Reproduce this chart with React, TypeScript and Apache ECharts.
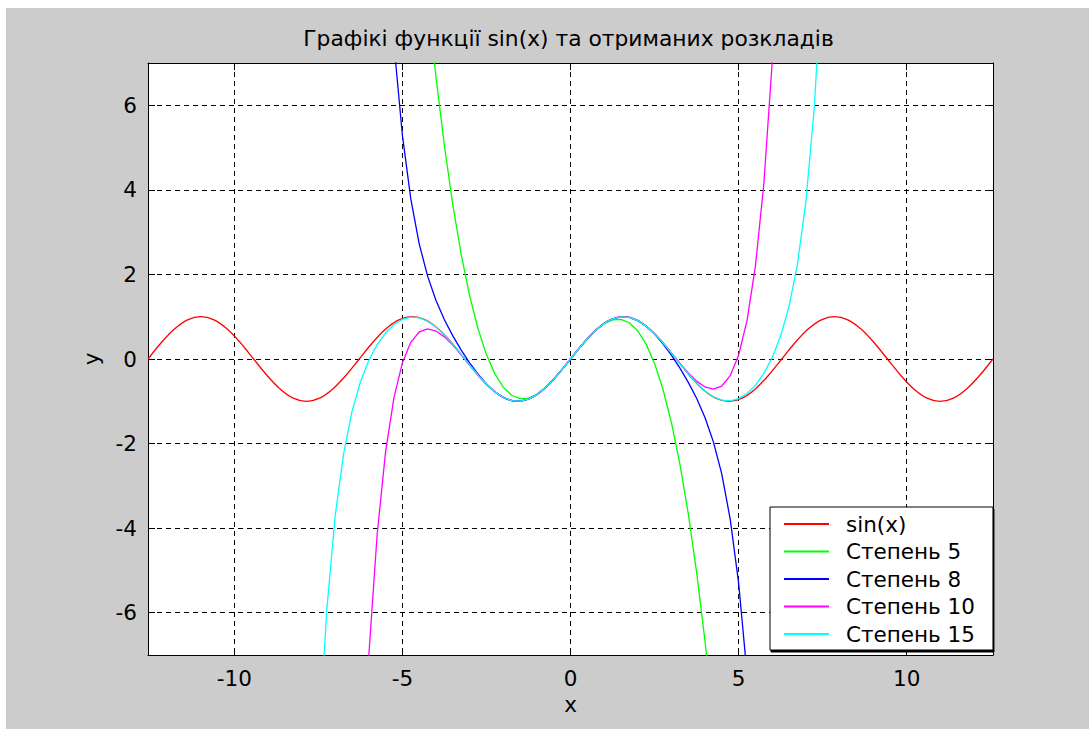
import React, { useEffect, useRef } from "react";
import * as echarts from "echarts";

const TITLE = "Графікі функції sin(x) та отриманих розкладів";
const X_NAME = "x";
const Y_NAME = "y";
const SERIES_NAMES = ["sin(x)", "Степень 5", "Степень 8", "Степень 10", "Степень 15"];
const SERIES_COLORS = ["#ff0000", "#00ff00", "#0000ff", "#ff00ff", "#00ffff"];

const X_MIN = -12.566;
const X_MAX = 12.566;
const Y_MIN = -7;
const Y_MAX = 7;

// sin(x) samples
const SIN_X = [
  -12.566, -12.174, -11.781, -11.388, -10.996, -10.603, -10.21, -9.817, -9.425, -9.032, -8.639,
  -8.247, -7.854, -7.461, -7.069, -6.676, -6.283, -5.89, -5.498, -5.105, -4.712, -4.32, -3.927,
  -3.534, -3.142, -2.749, -2.356, -1.963, -1.571, -1.178, -0.785, -0.393, 0, 0.393, 0.785, 1.178,
  1.571, 1.963, 2.356, 2.749, 3.142, 3.534, 3.927, 4.32, 4.712, 5.105, 5.498, 5.89, 6.283, 6.676,
  7.069, 7.461, 7.854, 8.247, 8.639, 9.032, 9.425, 9.817, 10.21, 10.603, 10.996, 11.388, 11.781,
  12.174, 12.566,
];
const SIN_Y = [
  0, 0.383, 0.707, 0.924, 1, 0.924, 0.707, 0.383, 0, -0.383, -0.707, -0.924, -1, -0.924, -0.707, -0.383,
  0, 0.383, 0.707, 0.924, 1, 0.924, 0.707, 0.383, 0, -0.383, -0.707, -0.924, -1, -0.924, -0.707, -0.383,
  0, 0.383, 0.707, 0.924, 1, 0.924, 0.707, 0.383, 0, -0.383, -0.707, -0.924, -1, -0.924, -0.707, -0.383,
  0, 0.383, 0.707, 0.924, 1, 0.924, 0.707, 0.383, 0, -0.383, -0.707, -0.924, -1, -0.924, -0.707, -0.383,
  0,
];

// shared x grid for the expansions
const POLY_X = [
  -7.5, -7.25, -7, -6.75, -6.5, -6.25, -6, -5.75, -5.5, -5.25, -5, -4.75, -4.5, -4.25, -4, -3.75,
  -3.5, -3.25, -3, -2.75, -2.5, -2.25, -2, -1.75, -1.5, -1.25, -1, -0.75, -0.5, -0.25, 0, 0.25, 0.5,
  0.75, 1, 1.25, 1.5, 1.75, 2, 2.25, 2.5, 2.75, 3, 3.25, 3.5, 3.75, 4, 4.25, 4.5, 4.75, 5, 5.25, 5.5,
  5.75, 6, 6.25, 6.5, 6.75, 7, 7.25, 7.5,
];

const DEG5_Y = [
  null, null, null, null, null, null, null, null, null, null, null, null, null,
  8.544, 6.667, 5.039, 3.646, 2.471, 1.5, 0.716, 0.104, -0.352, -0.667, -0.857, -0.938, -0.924, -0.833,
  -0.68, -0.479, -0.247, 0, 0.247, 0.479, 0.68, 0.833, 0.924, 0.938, 0.857, 0.667, 0.352, -0.104,
  -0.716, -1.5, -2.471, -3.646, -5.039, -6.667, -8.544,
  null, null, null, null, null, null, null, null, null, null, null, null, null,
];

const DEG8_Y = [
  null, null, null, null, null, null, null, null,
  10.496, 7.442, 5.293, 3.786, 2.724, 1.959, 1.384, 0.929, 0.546, 0.21, -0.091, -0.359, -0.589, -0.774,
  -0.908, -0.984, -0.997, -0.949, -0.841, -0.682, -0.479, -0.247, 0, 0.247, 0.479, 0.682, 0.841, 0.949,
  0.997, 0.984, 0.908, 0.774, 0.589, 0.359, 0.091, -0.21, -0.546, -0.929, -1.384, -1.959, -2.724,
  -3.786, -5.293, -7.442, -10.496,
  null, null, null, null, null, null, null, null,
];

const DEG10_Y = [
  null, null, null, null, null,
  -11.219, -7.029, -4.145, -2.195, -0.908, -0.09, 0.394, 0.639, 0.712, 0.662, 0.524, 0.328, 0.098,
  -0.145, -0.383, -0.599, -0.778, -0.909, -0.984, -0.997, -0.949, -0.841, -0.682, -0.479, -0.247, 0,
  0.247, 0.479, 0.682, 0.841, 0.949, 0.997, 0.984, 0.909, 0.778, 0.599, 0.383, 0.145, -0.098, -0.328,
  -0.524, -0.662, -0.712, -0.639, -0.394, 0.09, 0.908, 2.195, 4.145, 7.029, 11.219,
  null, null, null, null, null,
];

const DEG15_Y = [
  -9.35, -5.943, -3.716, -2.244, -1.245, -0.545, -0.037, 0.339, 0.618, 0.815, 0.938, 0.989, 0.973,
  0.893, 0.756, 0.571, 0.351, 0.108, -0.141, -0.382, -0.598, -0.778, -0.909, -0.984, -0.997, -0.949,
  -0.841, -0.682, -0.479, -0.247, 0, 0.247, 0.479, 0.682, 0.841, 0.949, 0.997, 0.984, 0.909, 0.778,
  0.598, 0.382, 0.141, -0.108, -0.351, -0.571, -0.756, -0.893, -0.973, -0.989, -0.938, -0.815, -0.618,
  -0.339, 0.037, 0.545, 1.245, 2.244, 3.716, 5.943, 9.35,
];

const FONT = "'DejaVu Sans', Verdana, sans-serif";
const FS = 21.5;
const FS_TITLE = 21.8;

function toPairs(xs: number[], ys: (number | null)[]) {
  const out: number[][] = [];
  xs.forEach((x, i) => {
    const y = ys[i];
    if (y !== null && y !== undefined) out.push([x, y]);
  });
  return out;
}

const SERIES_DATA = [
  toPairs(SIN_X, SIN_Y),
  toPairs(POLY_X, DEG5_Y),
  toPairs(POLY_X, DEG8_Y),
  toPairs(POLY_X, DEG10_Y),
  toPairs(POLY_X, DEG15_Y),
];

export default function App() {
  const ref = useRef<HTMLDivElement>(null);

  useEffect(() => {
    if (!ref.current) return;
    const chart = echarts.init(ref.current, undefined, { renderer: "svg" });
    const labelStyle = { fontSize: FS, color: "#000", fontFamily: FONT };
    const lineStyle = { color: "#000", width: 1 };
    const baseX = {
      type: "value" as const,
      min: X_MIN,
      max: X_MAX,
      splitNumber: 5,
      axisLine: { show: true, onZero: false, lineStyle },
      axisTick: { show: true, inside: true, length: 7, lineStyle },
    };
    const baseY = {
      type: "value" as const,
      min: Y_MIN,
      max: Y_MAX,
      splitNumber: 7,
      axisLine: { show: true, onZero: false, lineStyle },
      axisTick: { show: true, inside: true, length: 7, lineStyle },
    };
    chart.setOption({
      animation: false,
      backgroundColor: "#cccccc",
      textStyle: { fontFamily: FONT },
      title: {
        text: TITLE,
        left: 557.5,
        top: 14,
        textAlign: "center",
        textStyle: { fontSize: FS_TITLE, fontWeight: "normal", color: "#000", fontFamily: FONT },
      },
      grid: {
        left: 142,
        top: 55,
        width: 845,
        height: 592,
        show: true,
        backgroundColor: "#ffffff",
        borderWidth: 0,
      },
      legend: {
        data: SERIES_NAMES,
        orient: "vertical",
        left: 764,
        top: 499,
        itemWidth: 45,
        itemHeight: 20,
        itemGap: 5.5,
        padding: [6, 18, 5, 13],
        backgroundColor: "#ffffff",
        borderColor: "#000",
        borderWidth: 1,
        shadowColor: "#000",
        shadowOffsetX: 1,
        shadowOffsetY: 2,
        shadowBlur: 0,
        selectedMode: false,
        itemStyle: { opacity: 0 },
        textStyle: { ...labelStyle, lineHeight: 20, padding: [0, 0, 0, 12] },
      },
      xAxis: [
        {
          ...baseX,
          position: "bottom",
          name: X_NAME,
          nameLocation: "middle",
          nameGap: 38,
          nameTextStyle: labelStyle,
          axisLabel: { ...labelStyle, margin: 12, showMinLabel: false, showMaxLabel: false },
          splitLine: { show: true, lineStyle: { color: "#000", width: 1, type: [5, 4] } },
        },
        {
          ...baseX,
          position: "top",
          axisLabel: { show: false },
          splitLine: { show: false },
        },
      ],
      yAxis: [
        {
          ...baseY,
          position: "left",
          name: Y_NAME,
          nameLocation: "middle",
          nameGap: 46,
          nameTextStyle: labelStyle,
          axisLabel: { ...labelStyle, margin: 11, showMinLabel: false, showMaxLabel: false },
          splitLine: { show: true, lineStyle: { color: "#000", width: 1, type: [5, 4] } },
        },
        {
          ...baseY,
          position: "right",
          axisLabel: { show: false },
          splitLine: { show: false },
        },
      ],
      series: SERIES_NAMES.map((name, i) => ({
        name,
        type: "line",
        xAxisIndex: 0,
        yAxisIndex: 0,
        data: SERIES_DATA[i],
        symbol: "none",
        showSymbol: false,
        smooth: i === 0 ? 0.3 : false,
        clip: true,
        color: SERIES_COLORS[i],
        lineStyle: { color: SERIES_COLORS[i], width: 1.3 },
        emphasis: { disabled: true },
      })),
    });
    return () => chart.dispose();
  }, []);

  return (
    <div
      ref={ref}
      style={{ position: "absolute", left: 6, top: 8, width: 1083, height: 721 }}
    />
  );
}
